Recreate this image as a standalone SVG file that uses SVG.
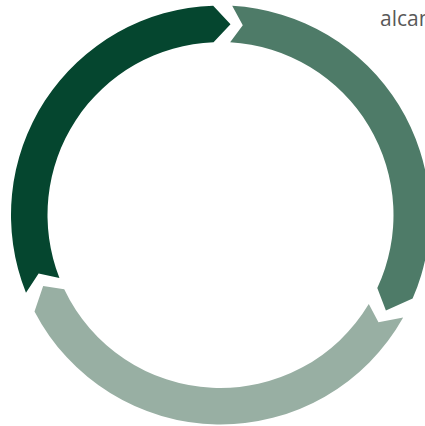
<svg xmlns="http://www.w3.org/2000/svg" width="425" height="426" viewBox="0 0 425 426">
  <style>
    .seg { stroke: none; }
    .dark { fill: #05462F; }
    .mid { fill: #4E7B68; }
    .light { fill: #98AFA3; }
    .label { font-family: "Open Sans", "Liberation Sans", sans-serif; font-size: 21px; fill: #595959; }
  </style>
  <rect width="425" height="426" fill="#ffffff"/>
  <g id="connectors"></g>
  <g id="segment-dark">
    <path class="seg dark" d="M25.98,292.80 A209.5,209.5 0 0 1 213.19,5.63 L230.5,24.26 L213.56,42.14 A173,173 0 0 0 59.43,278.12 L38.64,273.39 Z"/>
  </g>
  <g id="segment-medium">
    <path class="seg mid" d="M232.19,5.83 A209.5,209.5 0 0 1 412.62,298.54 L385.91,310.5 L377.29,288.11 A173,173 0 0 0 230.16,42.27 L242.78,25.30 Z"/>
  </g>
  <g id="segment-light">
    <path class="seg light" d="M403.18,317.53 A209.5,209.5 0 0 1 34.50,311.41 L43.16,285.93 L64.22,289.21 A173,173 0 0 0 368.79,304.10 L378.47,322.36 Z"/>
  </g>
  <g id="label">
    <text class="label" x="380" y="26">alcan</text>
  </g>
</svg>
